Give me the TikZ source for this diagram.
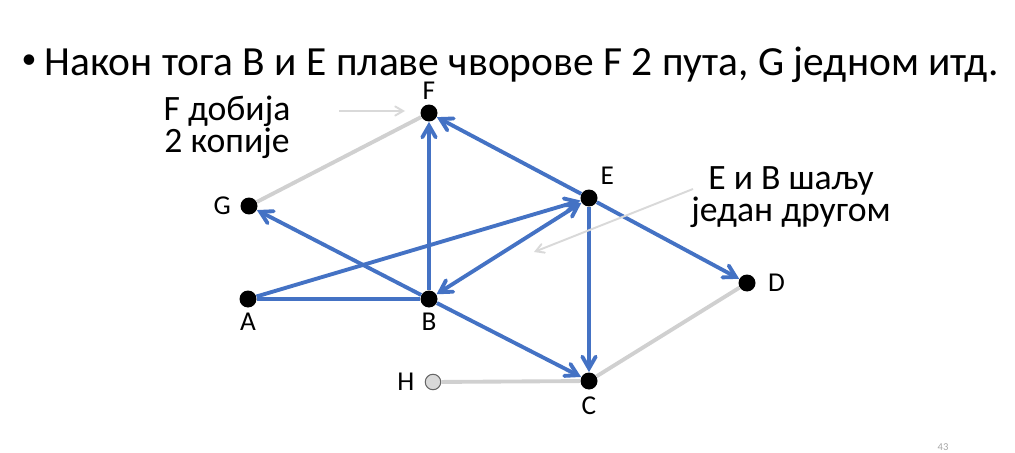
\documentclass[tikz,border=0pt]{standalone}
\usepackage{fontspec}
\setmainfont{Carlito}
\usepackage{tikz}
\usetikzlibrary{arrows,positioning}
\definecolor{edgeblue}{HTML}{4472C4}
\definecolor{edgegray}{HTML}{D0D0D0}
\definecolor{notegray}{HTML}{D9D9D9}
\tikzset{
  dot/.style={circle,fill=black,inner sep=0pt,minimum size=0.34cm},
  hdot/.style={circle,fill=notegray,draw=gray!80!black,line width=0.6pt,inner sep=0pt,minimum size=0.31cm},
  lbl/.style={inner sep=0pt,font=\fontsize{15.5}{18}\selectfont},
  note/.style={inner sep=0pt,align=center,font=\fontsize{20.3}{18.3}\selectfont},
  bluedge/.style={draw=edgeblue,line width=2.2pt},
  grayedge/.style={draw=edgegray,line width=2.2pt},
  notearrow/.style={->,draw=notegray,line width=1.1pt}
}
\begin{document}
\begin{tikzpicture}[x=0.02cm,y=-0.02cm,>=angle 60]
  \useasboundingbox (0,0) rectangle (1015,453);

  \node[inner sep=0pt,font=\fontsize{17}{20}\selectfont] (bul) at (29,62) {\textbullet};
  \node[inner sep=0pt,anchor=base west,font=\fontsize{23.6}{28}\selectfont] (title) at (44,75)
    {Након тога B и E плаве чворове F 2 пута, G једном итд.};

  % vertices
  \node[dot] (f) at (429,113) {};
  \node[dot] (g) at (249,206) {};
  \node[dot] (a) at (248,299) {};
  \node[dot] (b) at (429,299) {};
  \node[dot] (e) at (589,198) {};
  \node[dot] (d) at (747,283) {};
  \node[dot] (c) at (589,381) {};
  \node[hdot] (h) at (433,382) {};

  \node[lbl, above=0.09cm of f] (lf) {F};
  \node[lbl, left=0.18cm of g] (lg) {G};
  \node[lbl, below=0.1cm of a] (la) {A};
  \node[lbl, below=0.1cm of b] (lb) {B};
  \node[lbl, above right=0.14cm and 0.1cm of e] (le) {E};
  \node[lbl, right=0.24cm of d] (ld) {D};
  \node[lbl, below=0.14cm of c] (lc) {C};
  \node[lbl, left=0.2cm of h] (lh) {H};

  % edges
  \draw[grayedge] (g) -- (f);
  \draw[grayedge] (c) -- (d);
  \draw[grayedge] (h) -- (c);
  \draw[bluedge] (a) -- (b);
  \draw[bluedge,->] (a) -- (e);
  \draw[bluedge,<->] (b) -- (e);
  \draw[bluedge,->] (b) -- (f);
  \draw[bluedge,->] (e) -- (f);
  \draw[bluedge,->] (b) -- (g);
  \draw[bluedge,->] (b) -- (c);
  \draw[bluedge,->] (e) -- (c);
  \draw[bluedge,->] (e) -- (d);

  % notes
  \node[note] (nf) at (227,127) {F добија\\2 копије};
  \node[note] (neb) at (791,197) {E и B шаљу\\један другом};
  \coordinate (nf1) at (339,111);
  \coordinate (nf2) at (405,111);
  \coordinate (neb1) at (693,189);
  \coordinate (neb2) at (534,252);
  \draw[notearrow] (nf1) -- (nf2);
  \draw[notearrow] (neb1) -- (neb2);

  \node[inner sep=0pt,text=gray!70,font=\fontsize{6}{7}\selectfont] (pg) at (943,447) {43};
\end{tikzpicture}
\end{document}
